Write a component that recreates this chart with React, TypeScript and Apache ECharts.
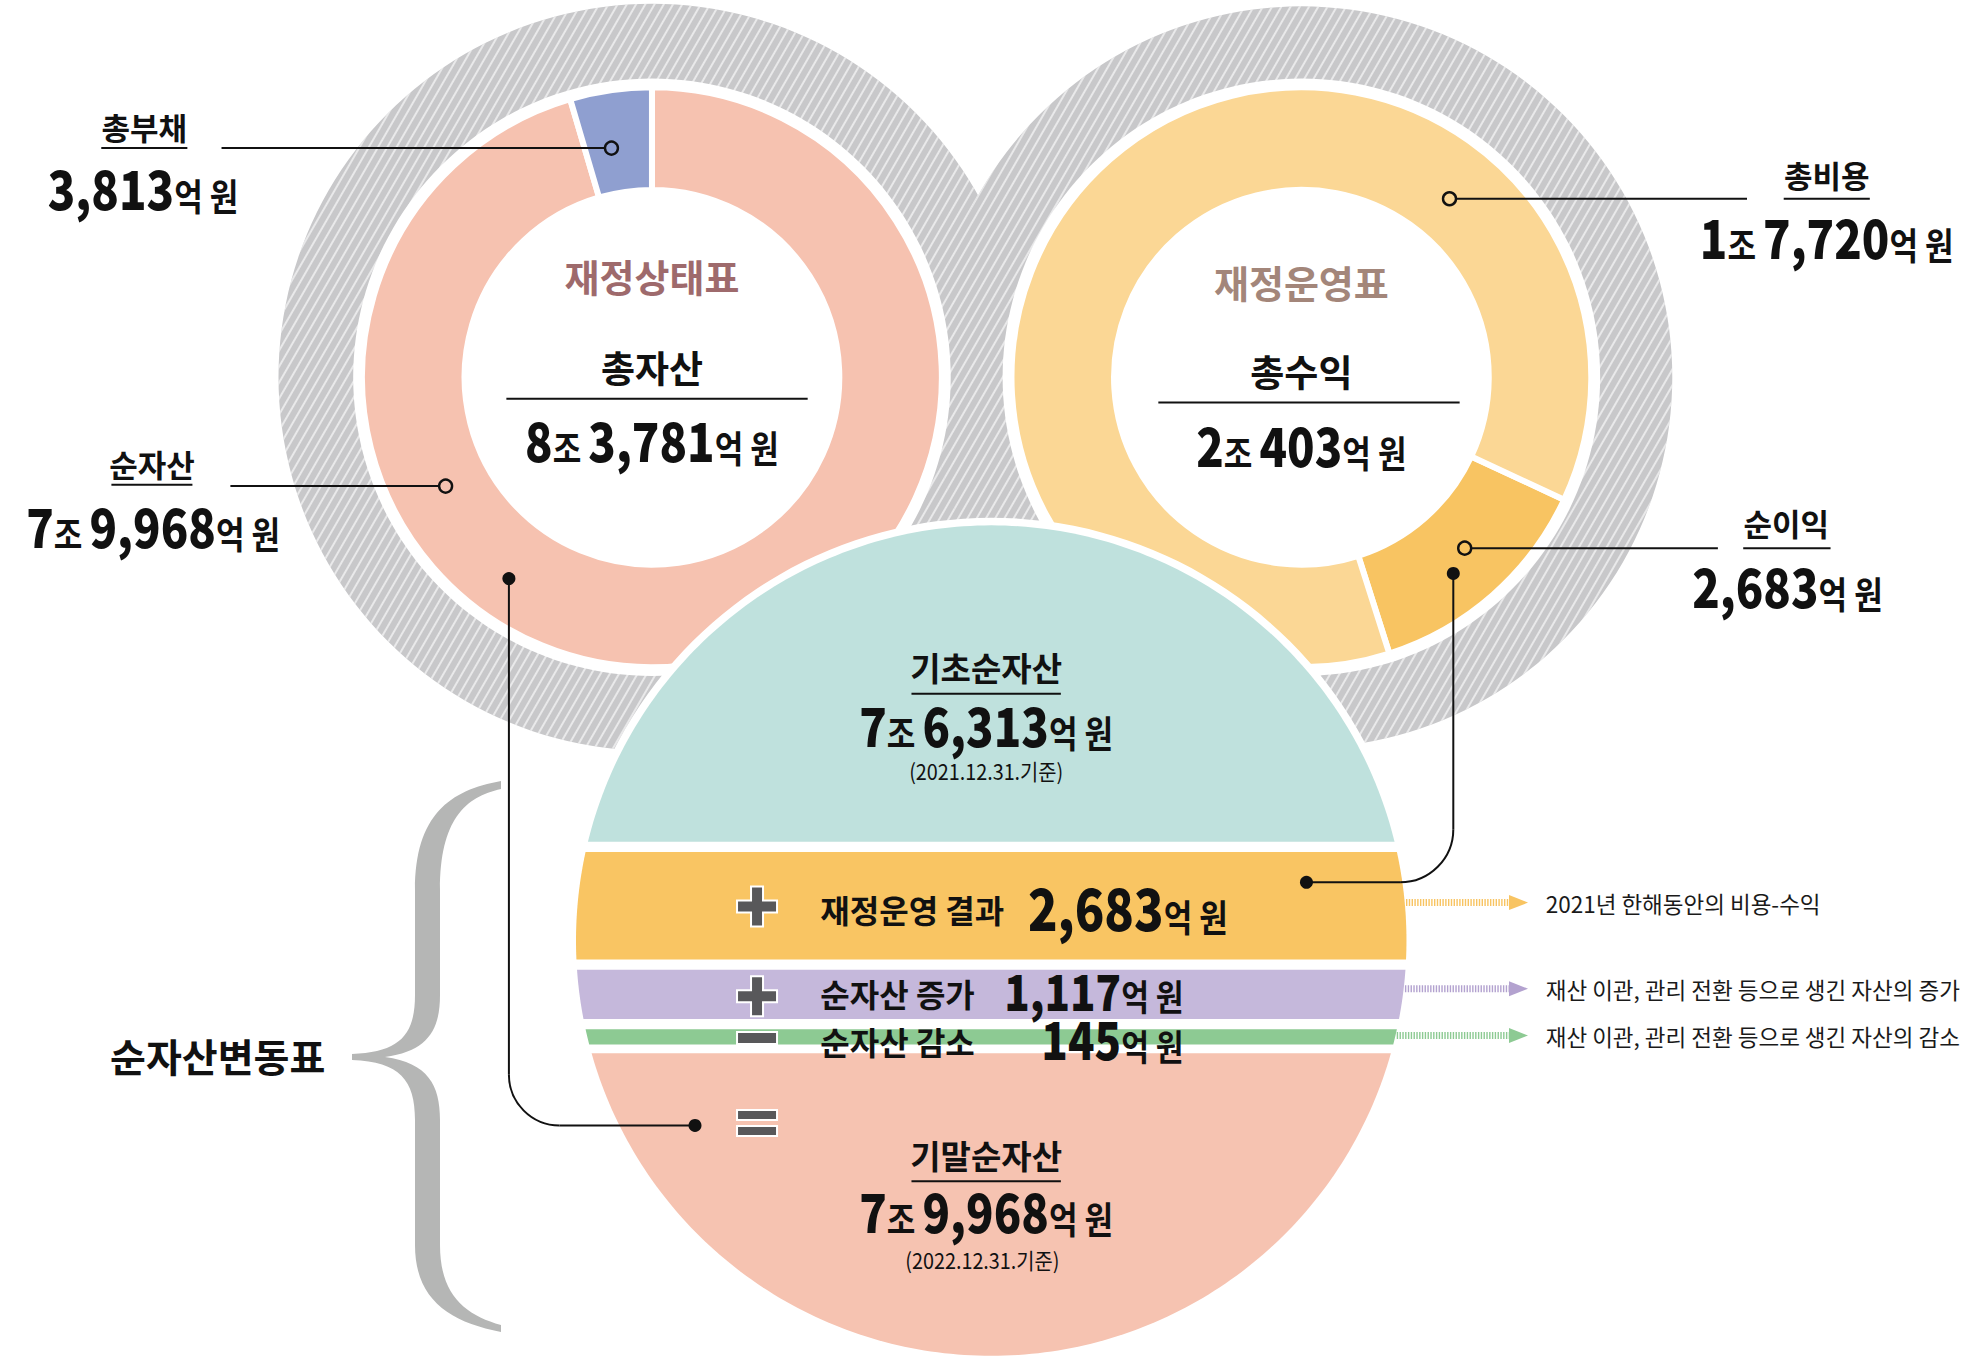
import React, { useEffect, useRef } from 'react';
import * as echarts from 'echarts';

const W = 1985;
const H = 1361;
const K = W / 1568;
const P = (v: number) => v * K;
const FONT = '"Noto Sans CJK KR", "Noto Sans", sans-serif';

// ---- data (단위: 억 원) ----
const positionNames = ['순자산', '총부채'];
const positionValues = [79968, 3813];
const positionColors = ['#F6C2B0', '#8F9FD0'];

const operationNames = ['순이익', '총비용'];
const operationValues = [2683, 17720];
const operationColors = ['#F8C462', '#FBD795'];

const changeNames = ['기초순자산', '재정운영 결과', '순자산 증가', '순자산 감소', '기말순자산'];
const changeValues = [76313, 2683, 1117, 145, 79968];
const changeDates = ['(2021.12.31.기준)', '', '', '', '(2022.12.31.기준)'];
const changeColors = ['#BFE1DD', '#F9C563', '#C5B8DB', '#8DCA93', '#F6C3B1'];
const changeNotes = ['', '2021년 한해동안의 비용-수익', '재산 이관, 관리 전환 등으로 생긴 자산의 증가', '재산 이관, 관리 전환 등으로 생긴 자산의 감소', ''];
const noteColors = ['', '#F8C462', '#B3A2CF', '#8DCA93', ''];

const braceD =
  'M 501 781 C 450 790 415 815 415 890 L 415 995 C 415 1035 400 1052 352 1054 L 352 1060 ' +
  'C 400 1062 415 1080 415 1120 L 415 1245 C 415 1300 450 1322 501 1332 L 501 1325 ' +
  'C 465 1315 440 1295 440 1245 L 440 1120 C 440 1085 428 1063 385 1057 ' +
  'C 428 1051 440 1030 440 995 L 440 890 C 440 820 465 797 501 789 Z';
echarts.graphic.registerShape('brace', echarts.graphic.extendPath(braceD, {}) as any);

function fmtAmount(v: number, big = 'b', unit = 'u') {
  const jo = Math.floor(v / 10000);
  const eok = (v % 10000).toLocaleString('en-US');
  let s = '';
  if (jo > 0) s += `{${big}|${jo}}{${unit}|조 }`;
  s += `{${big}|${eok}}{${unit}|억 원}`;
  return s;
}

function richNum(big: number, unit: number) {
  const off = 0.17 * (big - unit);
  return {
    b: { fontSize: big, fontWeight: 900, fontFamily: FONT, fill: '#111', verticalAlign: 'bottom', lineHeight: big * 1.1 },
    u: { fontSize: unit, fontWeight: 'bold', fontFamily: FONT, fill: '#111', verticalAlign: 'bottom', lineHeight: unit * 1.1 - 2 * off },
  };
}

function T(x: number, y: number, text: string, o: any = {}) {
  return {
    type: 'text', z: 40, silent: true, x: P(x), y: P(y), scaleX: o.sx || 1,
    style: {
      text, fill: o.fill || '#111', fontSize: o.size || 30, fontWeight: o.weight || 'bold',
      fontFamily: FONT, align: o.align || 'center', verticalAlign: 'middle', rich: o.rich,
    },
  };
}
// amount text, condensed like the original lettering
function A(x: number, y: number, v: number, big = 54, unit = 37, align = 'center') {
  return T(x, y - 6, fmtAmount(v), { rich: richNum(big, unit), sx: 0.84, align });
}
function L(x1: number, y1: number, x2: number, y2: number, w = 2, color = '#111') {
  return { type: 'line', z: 30, silent: true, shape: { x1: P(x1), y1: P(y1), x2: P(x2), y2: P(y2) }, style: { stroke: color, lineWidth: w } };
}
function D(x: number, y: number, filled: boolean) {
  return {
    type: 'circle', z: 31, silent: true, shape: { cx: P(x), cy: P(y), r: 6.5 },
    style: filled ? { fill: '#111' } : { fill: 'none', stroke: '#111', lineWidth: 2.4 },
  };
}

// central circle (layout, shown coords)
const CX = 783, CY = 743, CR = 328;
const bandEdges = [[CY - CR, 665], [673, 758], [766, 805], [813, 825], [832, CY + CR]];
function bandPoly(y1: number, y2: number) {
  const cl = (v: number) => Math.max(-1, Math.min(1, v));
  const a1 = Math.asin(cl((y1 - CY) / CR));
  const a2 = Math.asin(cl((y2 - CY) / CR));
  const N = 80;
  const pts: number[][] = [];
  for (let i = 0; i <= N; i++) { const a = a1 + ((a2 - a1) * i) / N; pts.push([P(CX - CR * Math.cos(a)), P(CY + CR * Math.sin(a))]); }
  for (let i = N; i >= 0; i--) { const a = a1 + ((a2 - a1) * i) / N; pts.push([P(CX + CR * Math.cos(a)), P(CY + CR * Math.sin(a))]); }
  return pts;
}
const circleRightX = (y: number) => CX + Math.sqrt(CR * CR - (y - CY) * (y - CY));

function plusPoly(cx: number, cy: number) {
  const a = 20, t = 6; const x = P(cx), y = P(cy);
  return [[x - t, y - a], [x + t, y - a], [x + t, y - t], [x + a, y - t], [x + a, y + t], [x + t, y + t], [x + t, y + a], [x - t, y + a], [x - t, y + t], [x - a, y + t], [x - a, y - t], [x - t, y - t]];
}

export default function App() {
  const ref = useRef<HTMLDivElement>(null);
  useEffect(() => {
    document.body.style.margin = '0';
    const chart = echarts.init(ref.current!, null, { renderer: 'svg' });

    const grayDecal = {
      symbol: 'rect', symbolSize: 1, color: 'rgba(255,255,255,0.6)',
      dashArrayX: [1, 0], dashArrayY: [1.5, 5.5], rotation: -Math.PI / 3,
    };
    const base = { type: 'pie', silent: true, label: { show: false }, labelLine: { show: false }, animation: false };
    const ring = (cx: number, r0: number, r1: number) => ({
      ...base, z: 1, center: [P(cx), P(298)], radius: [P(r0), P(r1)],
      itemStyle: { color: '#C8C8CA', decal: grayDecal }, data: [{ value: 1, name: 'ring' }],
    });
    const disc = (cx: number, r: number) => ({
      ...base, z: 2, center: [P(cx), P(298)], radius: [0, P(r)],
      itemStyle: { color: '#fff' }, data: [{ value: 1, name: 'bg' }],
    });

    const posTotal = positionValues.reduce((a, b) => a + b, 0);
    const opTotal = operationValues.reduce((a, b) => a + b, 0);

    const series: any[] = [
      ring(515, 230, 295),
      ring(1028, 230, 293),
      disc(515, 236),
      disc(1028, 236),
      {
        ...base, z: 3, center: [P(515), P(298)], radius: [P(148), P(229)], startAngle: 90, clockwise: true,
        itemStyle: { borderColor: '#fff', borderWidth: 6 },
        data: positionNames.map((n, i) => ({ name: n, value: positionValues[i], itemStyle: { color: positionColors[i] } })),
      },
      {
        ...base, z: 3, center: [P(1028), P(298)], radius: [P(148), P(229)], startAngle: -25, clockwise: true,
        itemStyle: { borderColor: '#fff', borderWidth: 6 },
        data: operationNames.map((n, i) => ({ name: n, value: operationValues[i], itemStyle: { color: operationColors[i] } })),
      },
    ];

    const g: any[] = [];
    // white halo + bands
    g.push({ type: 'circle', z: 10, silent: true, shape: { cx: P(CX), cy: P(CY), r: P(CR + 6) }, style: { fill: '#fff' } });
    bandEdges.forEach((e, i) => {
      g.push({ type: 'polygon', z: 11, silent: true, shape: { points: bandPoly(e[0], e[1]) }, style: { fill: changeColors[i] } });
    });

    // brace
    g.push({ type: 'brace', z: 12, silent: true, x: 0, y: 0, style: { fill: '#B5B6B5' } });

    // left labels
    g.push(T(114, 100, positionNames[1] === '총부채' ? '총부채' : positionNames[1], { size: 31 }));
    g.push(L(80, 117, 148, 117));
    g.push(A(113, 151, positionValues[1]));
    g.push(L(175, 117, 478, 117), D(483, 117, false));
    g.push(T(120, 366, positionNames[0], { size: 31 }));
    g.push(L(88, 383, 152, 383));
    g.push(A(121, 418, positionValues[0]));
    g.push(L(182, 384, 347, 384), D(352, 384, false));

    // right labels
    g.push(T(1443, 138, operationNames[1], { size: 31 }));
    g.push(L(1409, 157, 1477, 157));
    g.push(A(1443, 190, operationValues[1]));
    g.push(D(1145, 157, false), L(1150, 157, 1380, 157));
    g.push(T(1411, 413, operationNames[0], { size: 31 }));
    g.push(L(1377, 433, 1446, 433));
    g.push(A(1412, 465, operationValues[0]));
    g.push(D(1157, 433, false), L(1162, 433, 1357, 433));

    // donut centres
    g.push(T(515, 218, '재정상태표', { fill: '#9E6A6C', size: 38 }));
    g.push(T(515, 290, '총자산', { size: 37 }));
    g.push(L(400, 315, 638, 315));
    g.push(A(515, 350, posTotal));
    g.push(T(1028, 222, '재정운영표', { fill: '#A3867A', size: 38 }));
    g.push(T(1028, 293, '총수익', { size: 37 }));
    g.push(L(915, 318, 1153, 318));
    g.push(A(1028, 354, opTotal));

    // central statement
    g.push(T(779, 527, changeNames[0], { size: 33 }));
    g.push(L(720, 548, 838, 548));
    g.push(A(779, 575, changeValues[0]));
    g.push(T(779, 609, changeDates[0], { size: 22, weight: 'normal', sx: 0.9 }));

    g.push(T(779, 912, changeNames[4], { size: 33 }));
    g.push(L(720, 933, 838, 933));
    g.push(A(779, 959, changeValues[4]));
    g.push(T(776, 995, changeDates[4], { size: 22, weight: 'normal', sx: 0.9 }));

    // rows
    g.push(T(648, 718, changeNames[1], { size: 32, align: 'left' }));
    g.push(A(812, 719, changeValues[1], 58, 37, 'left'));
    g.push(T(648, 784, changeNames[2], { size: 32, align: 'left' }));
    g.push(A(935, 785, changeValues[2], 50, 36, 'right'));
    g.push(T(648, 822, changeNames[3], { size: 32, align: 'left' }));
    g.push(A(935, 823, changeValues[3], 52, 36, 'right'));

    // signs
    const signStyle = { fill: '#58585A', stroke: '#fff', lineWidth: 2 };
    g.push({ type: 'polygon', z: 35, silent: true, shape: { points: plusPoly(598, 716) }, style: signStyle });
    g.push({ type: 'polygon', z: 35, silent: true, shape: { points: plusPoly(598, 787) }, style: signStyle });
    g.push({ type: 'rect', z: 35, silent: true, shape: { x: P(598) - 20, y: P(820) - 6, width: 40, height: 12 }, style: signStyle });
    g.push({ type: 'rect', z: 35, silent: true, shape: { x: P(598) - 20, y: P(887) - 13, width: 40, height: 10 }, style: signStyle });
    g.push({ type: 'rect', z: 35, silent: true, shape: { x: P(598) - 20, y: P(887) + 3, width: 40, height: 10 }, style: signStyle });

    // note arrows
    const noteY = [0, 713, 781, 818, 0];
    [1, 2, 3].forEach((i) => {
      const y = noteY[i];
      const x0 = circleRightX(y) + 1;
      g.push({ type: 'line', z: 30, silent: true, shape: { x1: P(x0), y1: P(y), x2: P(1193), y2: P(y) }, style: { stroke: noteColors[i], lineWidth: 7, lineDash: [1.4, 1.4] } });
      g.push({ type: 'polygon', z: 30, silent: true, shape: { points: [[P(1192), P(y) - 7.5], [P(1207), P(y)], [P(1192), P(y) + 7.5]] }, style: { fill: noteColors[i] } });
      g.push(T(1221, y, changeNotes[i], { size: 22.5, weight: 'normal', align: 'left', fill: '#1a1a1a' }));
    });

    // connectors
    g.push(L(1148, 453, 1148, 655), { type: 'arc', z: 30, silent: true, shape: { cx: P(1106), cy: P(655), r: P(42), startAngle: 0, endAngle: Math.PI / 2, clockwise: true }, style: { stroke: '#111', lineWidth: 2, fill: 'none' } });
    g.push(L(1106, 697, 1032, 697), D(1148, 453, true), D(1032, 697, true));
    g.push(L(402, 457, 402, 849), { type: 'arc', z: 30, silent: true, shape: { cx: P(442), cy: P(849), r: P(40), startAngle: Math.PI / 2, endAngle: Math.PI, clockwise: true }, style: { stroke: '#111', lineWidth: 2, fill: 'none' } });
    g.push(L(442, 889, 549, 889), D(402, 457, true), D(549, 889, true));

    g.push(T(172, 833, '순자산변동표', { size: 39 }));

    chart.setOption({ animation: false, backgroundColor: '#fff', series, graphic: { elements: g } });
    return () => chart.dispose();
  }, []);
  return <div ref={ref} style={{ width: W, height: H, overflow: 'hidden' }} />;
}
